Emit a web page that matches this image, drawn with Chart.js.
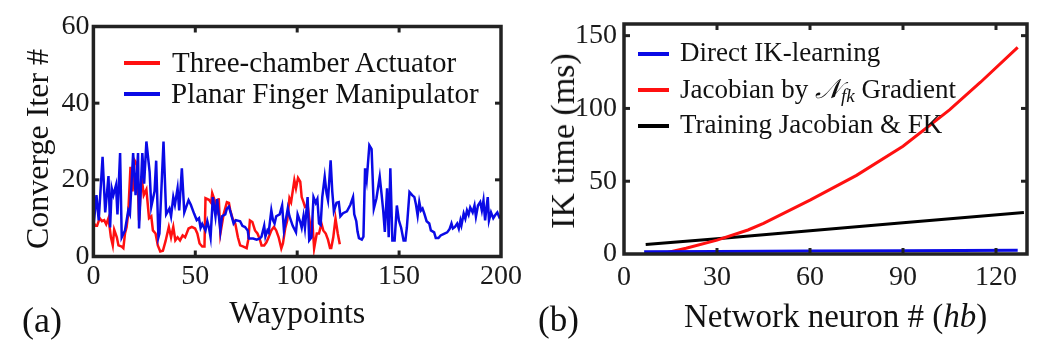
<!DOCTYPE html>
<html>
<head>
<meta charset="utf-8">
<script src="https://cdn.jsdelivr.net/npm/chart.js@4.4.1/dist/chart.umd.min.js"></script>
<style>
  body { margin: 0; background: #fff; width: 1049px; height: 357px; overflow: hidden; position: relative;
         font-family: 'Liberation Serif', 'Times New Roman', serif; color: #111; }
  canvas { position: absolute; top: 0; }
  #chartA { left: 0; }
  #chartB { left: 525px; }
  .txt { position: absolute; white-space: nowrap; line-height: 1; }
  .vt { position: absolute; white-space: nowrap; line-height: 1; transform: translate(-50%, -50%) rotate(-90deg); }
  .sw { position: absolute; height: 4px; }
</style>
</head>
<body>
<canvas id="chartA" width="525" height="357"></canvas>
<canvas id="chartB" width="524" height="357"></canvas>

<!-- panel tags and axis titles -->
<div class="txt" style="left:22px;top:302px;font-size:36px">(a)</div>
<div class="txt" style="left:538px;top:302px;font-size:35px">(b)</div>
<div class="txt" style="left:684px;top:300px;font-size:33px">Network neuron # (<i>hb</i>)</div>
<div class="vt" style="left:37px;top:149px;font-size:32px">Converge Iter #</div>
<div class="vt" style="left:563px;top:141px;font-size:34px">IK time (ms)</div>

<!-- legend (a) -->
<div class="sw" style="left:124px;top:61px;width:36px;background:#ff1010"></div>
<div class="txt" style="left:172px;top:48px;font-size:29px">Three-chamber Actuator</div>
<div class="sw" style="left:124px;top:92px;width:36px;background:#0a0ae6"></div>
<div class="txt" style="left:171px;top:79px;font-size:29px">Planar Finger Manipulator</div>

<!-- legend (b) -->
<div class="sw" style="left:638px;top:52px;width:31px;background:#0a0ae6"></div>
<div class="txt" style="left:680px;top:39px;font-size:27px">Direct IK-learning</div>
<div class="sw" style="left:638px;top:88px;width:31px;background:#ff1010"></div>
<div class="txt" style="left:680px;top:75px;font-size:27px">Jacobian by <span style="font-family:'DejaVu Serif';font-style:italic">𝒩</span><sub style="font-style:italic;font-size:19px;vertical-align:-4px">fk</sub> Gradient</div>
<div class="sw" style="left:638px;top:124px;width:31px;background:#000"></div>
<div class="txt" style="left:680px;top:111px;font-size:27px">Training Jacobian &amp; FK</div>

<script>
// ---------- data (a): waypoint, iterations to converge ----------
const actuatorPts = [
  [0,9],[1,8],[1.8,8],[3.1,10],[4.2,9.2],[5.3,9.5],[6.3,8.4],[7.4,10],[8.6,5],[9.5,2.9],
  [10.2,7],[11.5,5],[12.3,2.9],[13.9,2.6],[14.7,2.2],[15.5,6],[16.3,7.7],[17.1,11.3],[18.2,23.4],[19.2,17],
  [20.3,25],[21.5,24],[22.4,9.4],[23.6,21],[24.7,16],[26,17.5],[27.3,10],[28.4,10.5],[29.2,6.8],[30.5,6],
  [31.6,2.9],[32.8,1.3],[34.1,1.5],[35.4,4],[37,7.7],[38.1,5],[39.2,7.7],[40.2,4.2],[41.3,5],[42.5,4.2],
  [43.8,5.5],[45,5],[46.7,7.3],[48.3,7.7],[49.9,7.3],[51,6],[52.1,3.4],[53.4,2.6],[54.5,2.6],[55,15.2],
  [56.7,14.8],[57.8,14],[58.3,16.5],[59.6,14.5],[60.7,12.2],[61.5,15.2],[62.3,6],[63.9,11],[65.5,14.2],[66.5,14],
  [67.1,12.2],[68.3,9.9],[69.6,8.6],[70.9,5],[72,2.9],[73.6,2.6],[75.2,2.2],[76,4.4],[76.8,9.4],[78,9],
  [79.3,6.8],[80.5,6],[81.7,4.4],[82.5,2.9],[83.8,2.9],[84.9,3.7],[86,5],[87.3,6.8],[88.6,7.7],[89.7,6.8],
  [90.9,5],[92.2,2.1],[93,3.4],[94.1,7.3],[95.1,9.4],[96.2,15.2],[97,14.2],[98.6,19.9],[99.4,17.8],[100.4,20.5],
  [101.5,19.5],[102.2,15.5],[103.1,14.2],[103.8,13],[105.1,13.5],[105.9,10],[106.7,6.8],[107.5,8.6],[108.3,2.1],[109.6,6],
  [110.7,6],[111.9,8.6],[112.8,6.8],[114,6],[115.1,4.4],[116.1,2.2],[116.7,2.2],[117.7,5],[118.8,9.9],[119.9,6],
  [120.9,3.2]
];
const fingerPts = [
  [0,7.6],[1.5,16],[2.6,9.4],[4.5,26],[5.8,11.5],[7.4,21],[8.2,7.6],[9,17.8],[9.8,16],[11.1,18.6],
  [11.8,11],[13.1,27],[13.9,5],[15.5,6.8],[17.1,12],[17.9,11],[19.5,27],[20.7,16],[21.9,27],[22.4,7.3],
  [24,27],[24.9,19],[26,30],[27.6,22],[28.4,13],[30,17],[30.8,25],[31.9,5],[32.4,6],[34.4,30],
  [35.7,11],[37.3,12.5],[38.1,10.5],[39.2,15.5],[40,13.5],[41.3,17.8],[42.1,12],[43.4,23],[44.6,11.5],[46.7,14.7],
  [47.8,13.5],[49.4,11.2],[50.7,9.5],[51.8,10],[52.6,7.5],[53.4,8.5],[55,6.8],[55.9,9.2],[56.7,7.5],[57.5,5],
  [58.6,15.5],[59.9,10.5],[60.7,15],[62.3,6.8],[63.1,10.5],[64.7,11],[65.5,12.5],[66.5,13],[67.6,11],[68.8,8.6],
  [69.9,9.5],[72,9.2],[73.1,8],[74.4,7.7],[75.7,6.8],[76.3,4.7],[78.4,4.7],[80.1,4.4],[81.7,4.7],[82.5,5.2],
  [83.8,8],[84.4,5.2],[85.4,6.8],[86,6.3],[87.3,12],[88.1,9.5],[88.9,8.6],[89.7,10.5],[91.4,11],[92.6,13.3],
  [93.5,6.8],[94.1,8.6],[95.4,12.6],[96.2,10.5],[97.8,8],[99.4,6.3],[100.2,11],[101.5,9],[102.2,7.5],[103.1,10.5],
  [103.8,7.5],[105.1,15.5],[105.9,4.2],[107,5],[108,15.5],[109.1,14],[109.9,15],[110.7,8.6],[111.5,8.2],[112.3,15.5],
  [113.5,20.8],[114.4,16.5],[115.1,14.7],[116.4,25.1],[117.2,17],[118,11.8],[119.3,14],[120.4,14.2],[121.2,10.5],[122.5,11.3],
  [124.4,11.8],[126.1,13.5],[127.4,15.5],[128,11],[129,9.2],[129.6,6.5],[130.3,4.8],[131.7,4.4],[132.5,5.2],[133.3,23],
  [134.1,20],[135.4,29],[136.5,28],[137.6,12.5],[138.9,15.2],[140.5,20.8],[141.4,16.3],[142.2,12],[143,6.4],[144.1,17.8],
  [144.9,5],[145.7,23],[146.7,4.2],[147.8,4.2],[148.9,13.3],[149.9,9.4],[151,7.5],[152.2,4.2],[153.1,4.2],[153.8,7.5],
  [155.1,16.8],[156.4,16],[157.5,15.5],[158.3,13.5],[159.1,10.7],[159.9,14.2],[160.7,12],[161.5,12.5],[162.3,11.3],[163.5,9.2],
  [164.8,8.6],[165.6,6.8],[167.2,6.3],[168,4.8],[169.3,4.8],[170.4,5.5],[172,5.9],[173.6,6.3],[174.8,7.2],[175.7,8.6],
  [176.4,7.3],[177.4,7.7],[178.5,8.6],[179.3,7.3],[180.1,9.4],[180.6,8.2],[181.7,11.2],[182.5,9.9],[183.3,12],[184.1,10.9],
  [184.9,12.8],[186.1,11.5],[187,13.3],[187.7,10.4],[188.7,13.3],[189.8,14.2],[190.6,12],[191.4,14.6],[192.2,9.4],[193,13.3],
  [193.5,15.5],[194.1,9.4],[195.1,11.5],[196.2,10],[197,10.7],[198.2,11.5],[199.2,10.2],[200,10.5]
];
const waypointTicks = [0, 50, 100, 150, 200];
const iterTicks = [0, 20, 40, 60];

// ---------- data (b): network neurons vs IK time (ms) ----------
const neuronDirect = [6.5, 30, 60, 90, 127];
const timeDirect   = [1.5, 1.8, 2.0, 2.2, 2.5];
const neuronGrad   = [13, 20, 30, 40, 45, 60, 75, 90, 105, 115, 127];
const timeGrad     = [0.5, 4, 9.5, 16.5, 21, 37, 54, 74, 99, 118, 142];
const neuronTrain  = [7, 30, 60, 90, 129];
const timeTrain    = [6.5, 10.5, 16, 21.5, 28.5];
const neuronTicks = [0, 30, 60, 90, 120];
const timeTicks = [0, 50, 100, 150];

const FONT = "'Liberation Serif', 'Times New Roman', serif";
const RED = '#ff1010', BLUE = '#0a0ae6';

const toXY = (xs, ys) => xs.map((x, i) => ({ x, y: ys[i] }));
const fromPairs = pts => pts.map(p => ({ x: p[0], y: p[1] }));

// box around the plot area + inward tick marks
const framePlugin = {
  id: 'frame',
  afterDraw(chart) {
    const { ctx, chartArea: a, scales: { x, y } } = chart;
    ctx.save();
    ctx.strokeStyle = '#222';
    ctx.lineWidth = 3;
    const seg = (x1, y1, x2, y2) => { ctx.beginPath(); ctx.moveTo(x1, y1); ctx.lineTo(x2, y2); ctx.stroke(); };
    x.ticks.forEach(t => {
      if (t.value <= x.min || t.value >= x.max) return;
      const px = x.getPixelForValue(t.value);
      seg(px, a.bottom, px, a.bottom - 6);
      seg(px, a.top, px, a.top + 6);
    });
    y.ticks.forEach(t => {
      if (t.value <= y.min || t.value >= y.max) return;
      const py = y.getPixelForValue(t.value);
      seg(a.left, py, a.left + 6, py);
      seg(a.right, py, a.right - 6, py);
    });
    ctx.lineWidth = 3.5;
    ctx.strokeRect(a.left, a.top, a.right - a.left, a.bottom - a.top);
    ctx.restore();
  }
};

function axis(min, max, tickVals, pad, opts) {
  return Object.assign({
    type: 'linear', min, max,
    afterBuildTicks: s => { s.ticks = tickVals.map(v => ({ value: v })); },
    grid: { display: false, drawTicks: false },
    border: { display: false },
    ticks: { font: { family: FONT, size: 28 }, color: '#1a1a1a', maxRotation: 0, autoSkip: false, padding: pad }
  }, opts);
}

// ---------- chart (a) ----------
new Chart(document.getElementById('chartA'), {
  type: 'line',
  data: {
    datasets: [
      { label: 'Planar Finger Manipulator', data: fromPairs(fingerPts), borderColor: BLUE, borderWidth: 2.5,
        pointRadius: 0, tension: 0, order: 0 },
      { label: 'Three-chamber Actuator', data: fromPairs(actuatorPts), borderColor: RED, borderWidth: 2.5,
        pointRadius: 0, tension: 0, order: 1 }
    ]
  },
  options: {
    responsive: false, animation: false,
    layout: { padding: { left: 0, top: 26.5, right: 19, bottom: 0 } },
    plugins: { legend: { display: false }, tooltip: { enabled: false } },
    scales: {
      x: axis(0, 200, waypointTicks, 3, {
        afterFit: s => { s.height = 100.5; },
        title: { display: true, text: 'Waypoints', font: { family: FONT, size: 32 }, color: '#111',
                 padding: { top: 0, bottom: 23 } }
      }),
      y: axis(0, 60, iterTicks, 4, {
        afterFit: s => { s.width = 93.4; }
      })
    }
  },
  plugins: [framePlugin]
});

// ---------- chart (b) ----------
new Chart(document.getElementById('chartB'), {
  type: 'line',
  data: {
    datasets: [
      { label: 'Direct IK-learning', data: toXY(neuronDirect, timeDirect), borderColor: BLUE, borderWidth: 3,
        pointRadius: 0, tension: 0 },
      { label: 'Jacobian by Nfk Gradient', data: toXY(neuronGrad, timeGrad), borderColor: RED, borderWidth: 3,
        pointRadius: 0, tension: 0 },
      { label: 'Training Jacobian & FK', data: toXY(neuronTrain, timeTrain), borderColor: '#000', borderWidth: 3,
        pointRadius: 0, tension: 0 }
    ]
  },
  options: {
    responsive: false, animation: false,
    layout: { padding: { left: 0, top: 24, right: 22, bottom: 0 } },
    plugins: { legend: { display: false }, tooltip: { enabled: false } },
    scales: {
      x: axis(0, 130, neuronTicks, 7, {
        afterFit: s => { s.height = 103; }
      }),
      y: axis(0, 158, timeTicks, 7, {
        afterFit: s => { s.width = 99; }
      })
    }
  },
  plugins: [framePlugin]
});
</script>
</body>
</html>
